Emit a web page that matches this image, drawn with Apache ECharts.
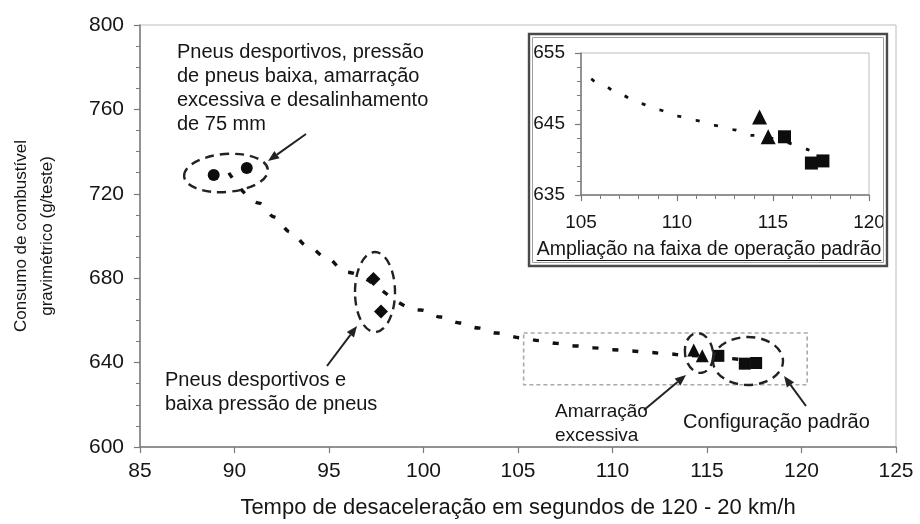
<!DOCTYPE html>
<html>
<head>
<meta charset="utf-8">
<script src="https://cdn.jsdelivr.net/npm/echarts@6/dist/echarts.min.js"></script>
<style>
  html, body { margin: 0; padding: 0; background: #fff; }
  #chart { width: 920px; height: 524px; }
</style>
</head>
<body>
<div id="chart"></div>
<script>
// Fitted trend of fuel consumption vs. deceleration time
const trendX = [89.7, 91.3, 92.1, 92.95, 93.85, 94.9, 95.85, 99.85, 100.9, 101.9, 102.9, 103.85,
                105.2, 106.15, 107.05, 108.05, 109.0, 110.0, 110.95, 111.95, 112.9, 113.9, 116.9];
const trendY = [729.9, 715.6, 709.0, 701.9, 695.3, 689.6, 682.9, 664.9, 661.6, 658.8, 656.4, 654.0,
                651.7, 650.4, 649.1, 647.9, 647.0, 646.1, 645.5, 644.8, 644.2, 643.4, 641.3];

// Measured configurations
const allFaultsX = [88.9, 90.65];     // sport tyres + low pressure + over-tightening + 75 mm misalignment
const allFaultsY = [728.9, 732.2];
const sportLowX = [97.35, 97.75];     // sport tyres + low pressure
const sportLowY = [679.6, 664.2];
const tightX = [114.3, 114.75];       // excessive tightening
const tightY = [646.0, 643.2];
const standardX = [115.6, 117.0, 117.6]; // standard configuration
const standardY = [643.2, 639.5, 639.8];

// Axis ranges / ticks
const mainXTicks = { min: 85, max: 125, step: 5 };
const mainYTicks = { min: 600, max: 800, step: 40 };
const zoomXTicks = { min: 105, max: 120, step: 5 };
const zoomYTicks = { min: 635, max: 655, step: 10 };

// Texts
const xTitle = 'Tempo de desaceleração em segundos de 120 - 20 km/h';
const yTitle = 'Consumo de combustível\ngravimétrico (g/teste)';
const noteAll = 'Pneus desportivos, pressão\nde pneus baixa, amarração\nexcessiva e desalinhamento\nde 75 mm';
const noteSport = 'Pneus desportivos e\nbaixa pressão de pneus';
const noteTight = 'Amarração\nexcessiva';
const noteStd = 'Configuração padrão';
const zoomCaption = 'Ampliação na faixa de operação padrão';

const FONT = '"Liberation Sans", Arial, Helvetica, sans-serif';
const INK = '#151515';
const AXIS = '#7a7a7a';

const pairs = (xs, ys) => xs.map((x, i) => [x, ys[i]]);

function textWidth(str, size) {
  const ctx = document.createElement('canvas').getContext('2d');
  ctx.font = size + 'px ' + FONT;
  return ctx.measureText(str).width;
}

function arrow(x1, y1, x2, y2) {
  const a = Math.atan2(y2 - y1, x2 - x1);
  const L = 11, W = 4.5;
  const bx = x2 - L * Math.cos(a), by = y2 - L * Math.sin(a);
  const nx = -Math.sin(a), ny = Math.cos(a);
  return [
    { type: 'line', z: 50, shape: { x1, y1, x2: bx, y2: by }, style: { stroke: '#222', lineWidth: 2 } },
    { type: 'polygon', z: 50, shape: { points: [[x2, y2], [bx + nx * W, by + ny * W], [bx - nx * W, by - ny * W]] },
      style: { fill: '#222' } }
  ];
}

function ring(cx, cy, rx, ry, rot) {
  return { type: 'ellipse', z: 50, x: cx, y: cy, rotation: rot || 0,
    shape: { cx: 0, cy: 0, rx, ry },
    style: { fill: null, stroke: '#222', lineWidth: 2.4, lineDash: [9, 6] } };
}

function note(str, x, y, size) {
  return { type: 'text', z: 50, x, y,
    style: { text: str, fontSize: size, fontFamily: FONT, fill: INK, lineHeight: 24, verticalAlign: 'top' } };
}

const capSize = 19.5;
const capW = textWidth(zoomCaption, capSize);
const capX = 709 - capW / 2;

function axisPair(grid, xr, yr, opts) {
  const common = {
    gridIndex: grid, type: 'value', splitLine: { show: false },
    axisLine: { show: true, onZero: false, lineStyle: { color: AXIS, width: 1.5 } },
    axisTick: { show: true, length: opts.tick, lineStyle: { color: AXIS, width: 1.2 } },
    axisLabel: { color: INK, fontSize: opts.font, fontFamily: FONT }
  };
  const x = Object.assign({}, common, { min: xr.min, max: xr.max, interval: xr.step,
    axisLabel: Object.assign({}, common.axisLabel, { margin: opts.xMargin }) });
  const y = Object.assign({}, common, { min: yr.min, max: yr.max, interval: yr.step,
    axisLabel: Object.assign({}, common.axisLabel, { margin: opts.yMargin }) });
  return [x, y];
}

const [mx, my] = axisPair(0, mainXTicks, mainYTicks, { tick: 6, font: 21, xMargin: 14, yMargin: 16 });
Object.assign(mx, { name: xTitle, nameLocation: 'middle', nameGap: 50,
  nameTextStyle: { fontSize: 22, color: INK, fontFamily: FONT } });
Object.assign(my, { name: yTitle, nameLocation: 'middle', nameGap: 80,
  nameTextStyle: { fontSize: 17, color: INK, fontFamily: FONT, lineHeight: 26 },
  minorTick: { show: true, splitNumber: 4, length: 4, lineStyle: { color: AXIS } } });

const [zx, zy] = axisPair(1, zoomXTicks, zoomYTicks, { tick: 6, font: 19, xMargin: 18, yMargin: 16 });
zx.minorTick = { show: true, splitNumber: 5, length: 4, lineStyle: { color: AXIS } };
zy.minorTick = { show: true, splitNumber: 5, length: 4, lineStyle: { color: AXIS } };

function markSeries(name, xs, ys, symbol, size, grid) {
  return { name, type: 'scatter', xAxisIndex: grid, yAxisIndex: grid, data: pairs(xs, ys),
    symbol, symbolSize: size, itemStyle: { color: '#0d0d0d', opacity: 1 }, z: 10, silent: true };
}

function trendSeries(grid, width, dash) {
  return { type: 'line', xAxisIndex: grid, yAxisIndex: grid, data: pairs(trendX, trendY),
    showSymbol: false, smooth: 0.35, smoothMonotone: 'x', clip: true, silent: true, z: 5,
    lineStyle: { color: '#111', width, type: dash, cap: 'butt' } };
}

const mainTrend = trendSeries(0, 3.4, [6, 14]);
mainTrend.markArea = {
  silent: true,
  itemStyle: { color: 'rgba(0,0,0,0)', borderColor: '#aaaaaa', borderWidth: 1.6, borderType: [4, 3] },
  data: [[{ coord: [105.3, 654] }, { coord: [120.3, 629.5] }]]
};

const option = {
  animation: false,
  backgroundColor: '#ffffff',
  grid: [
    { left: 139, right: 24, top: 25, bottom: 77, show: true, borderColor: '#bdbdbd', borderWidth: 1 },
    { left: 581, right: 51, top: 53, bottom: 329, show: true, borderColor: '#bdbdbd', borderWidth: 1 }
  ],
  xAxis: [mx, zx],
  yAxis: [my, zy],
  series: [
    mainTrend,
    markSeries('Pneus desportivos, pressão baixa, amarração excessiva e desalinhamento', allFaultsX, allFaultsY, 'circle', 12, 0),
    markSeries('Pneus desportivos e baixa pressão', sportLowX, sportLowY, 'diamond', 14, 0),
    markSeries('Amarração excessiva', tightX, tightY, 'triangle', 13, 0),
    markSeries('Configuração padrão', standardX, standardY, 'rect', 12, 0),
    trendSeries(1, 2.8, [4, 15]),
    markSeries('Amarração excessiva', tightX, tightY, 'triangle', 15, 1),
    markSeries('Configuração padrão', standardX, standardY, 'rect', 13, 1)
  ],
  graphic: [
    // inset frame (double line)
    { type: 'rect', z: 1, shape: { x: 529, y: 34, width: 358, height: 232 },
      style: { fill: null, stroke: '#4a4a4a', lineWidth: 2.4 } },
    { type: 'rect', z: 1, shape: { x: 532.5, y: 37.5, width: 351, height: 225 },
      style: { fill: null, stroke: '#a0a0a0', lineWidth: 1 } },
    { type: 'text', z: 50, x: capX, y: 250,
      style: { text: zoomCaption, fontSize: capSize, fontFamily: FONT, fill: INK, verticalAlign: 'middle' } },
    { type: 'line', z: 50, shape: { x1: capX, y1: 260.5, x2: capX + capW, y2: 260.5 },
      style: { stroke: INK, lineWidth: 1.2 } },
    // annotation ellipses
    ring(226, 173, 42, 19, 0.08),
    ring(375, 292, 20, 40, 0),
    ring(699, 353, 14, 20, 0.15),
    ring(748, 361, 35, 24, 0),
    // arrows
    ...arrow(306, 134, 268, 161),
    ...arrow(327, 366, 357, 326),
    ...arrow(644, 410, 686, 375),
    ...arrow(806, 406, 784, 376),
    // notes
    note(noteAll, 177, 40, 20),
    note(noteSport, 165, 368, 20),
    note(noteTight, 555, 400, 19),
    note(noteStd, 683, 410, 20)
  ]
};

const chart = echarts.init(document.getElementById('chart'), null, { renderer: 'canvas' });
chart.setOption(option);
</script>
</body>
</html>
